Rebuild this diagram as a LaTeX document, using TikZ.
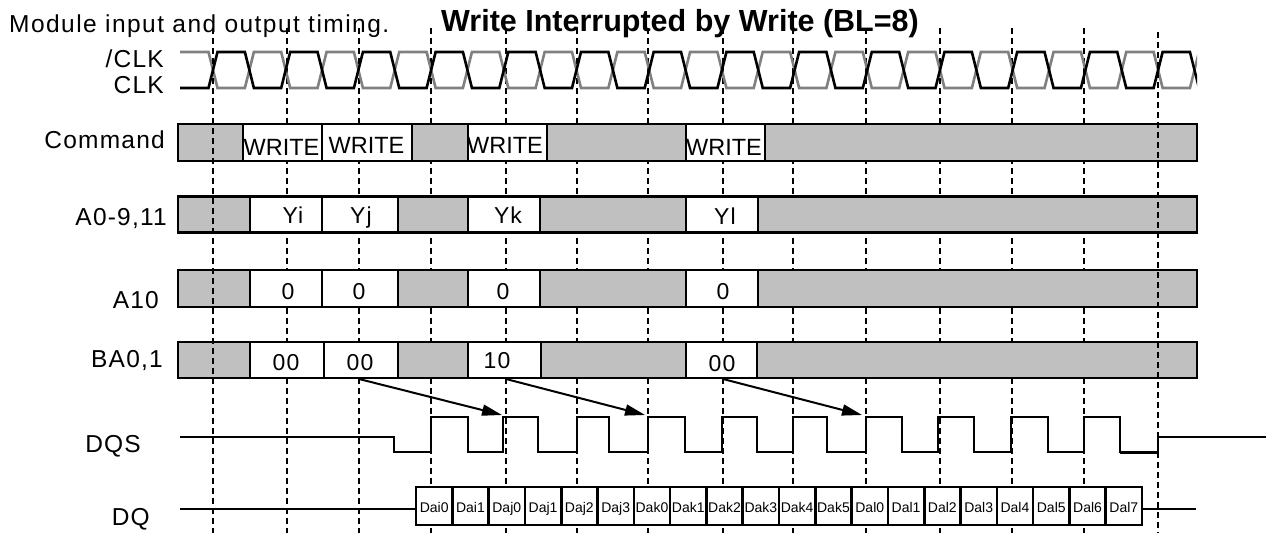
\documentclass[tikz,border=0pt]{standalone}
\usepackage{fontspec}
\setmainfont{Liberation Sans}
\newfontfamily\labfont[LetterSpace=5]{Liberation Sans}
\newfontfamily\modfont[LetterSpace=6]{Liberation Sans}
\usetikzlibrary{arrows.meta}
\definecolor{boxgray}{RGB}{192,192,192}
\definecolor{clkgray}{RGB}{128,128,128}
\begin{document}
\begin{tikzpicture}[x=1pt,y=-1pt,
  lab/.style={anchor=base east, inner sep=0pt, font=\labfont\fontsize{24.5}{29}\selectfont},
  celltxt/.style={anchor=base, inner sep=0pt, font=\labfont\fontsize{23}{27}\selectfont},
  wtxt/.style={anchor=base, inner sep=0pt, font=\fontsize{23.5}{27}\selectfont},
  dqtxt/.style={anchor=base, inner sep=0pt, font=\fontsize{14}{16}\selectfont},
  gridline/.style={dash pattern=on 6pt off 4pt, line width=1.8pt},
  seg/.style={draw=black, line width=2.8pt},
  cell/.style={draw=black, fill=white, line width=2.6pt},
  wave/.style={line width=2.6pt, line join=miter},
  sig/.style={line width=2pt},
  arr/.style={line width=2pt, -{Triangle[length=20pt,width=11pt]}}
]
\useasboundingbox (0,0) rectangle (1266,533);

% background grid lines
\foreach \x in {287,359,431,506,577,648,723,793,866,940,1012,1084}
  \draw[gridline] (\x,28) -- (\x,533);

% title texts
\node[anchor=base, inner sep=0pt, font=\bfseries\fontsize{30.5}{34}\selectfont] (title) at (680,31) {Write Interrupted by Write (BL=8)};
\node[anchor=base west, inner sep=0pt, font=\modfont\fontsize{24.5}{29}\selectfont] (module) at (9,32) {Module input and output timing.};

% clocks
\begin{scope}
  \clip (170,30) rectangle (1197,110);
  \draw[wave, draw=clkgray] (180,52) foreach \k in {0,...,27} {
     -- ({213+\k*36.35-4.5},{88-36*(1-mod(\k,2))})
     -- ({213+\k*36.35+4.5},{52+36*(1-mod(\k,2))}) } -- (1230,88);
  \draw[wave] (180,88) foreach \k in {0,...,27} {
     -- ({213+\k*36.35-4.5},{52+36*(1-mod(\k,2))})
     -- ({213+\k*36.35+4.5},{88-36*(1-mod(\k,2))}) } -- (1230,52);
\end{scope}

% labels
\node[lab] (lnclk) at (164,67) {/CLK};
\node[lab] (lclk) at (164,93) {CLK};
\node[lab] (lcmd) at (165,148) {Command};
\node[lab] (laddr) at (167,225) {A0-9,11};
\node[lab] (la10) at (159,308) {A10};
\node[lab] (lba) at (163,367) {BA0,1};
\node[lab] (ldqs) at (141,452) {DQS};
\node[lab] (ldq) at (150,525) {DQ};

% Command row
\foreach \a/\b/\f in {178/243/boxgray,243/322/white,322/412/white,412/468/boxgray,468/547/white,547/686/boxgray,686/765/white,765/1197/boxgray}
  \draw[seg, fill=\f] (\a,124) rectangle (\b,161);
% A0-9,11 row
\foreach \a/\b/\f in {178/250/boxgray,250/322/white,322/398/white,398/468/boxgray,468/540/white,540/686/boxgray,686/758/white,758/1197/boxgray}
  \draw[seg, fill=\f] (\a,196.5) rectangle (\b,232.5);
% A10 row
\foreach \a/\b/\f in {178/250/boxgray,250/322/white,322/398/white,398/468/boxgray,468/540/white,540/686/boxgray,686/758/white,758/1197/boxgray}
  \draw[seg, fill=\f] (\a,270) rectangle (\b,307);
% BA0,1 row
\foreach \a/\b/\f in {178/250/boxgray,250/324/white,324/398/white,398/468/boxgray,468/541/white,541/686/boxgray,686/757/white,757/1197/boxgray}
  \draw[seg, fill=\f] (\a,342) rectangle (\b,378);

% cell texts
\node[wtxt] (w1) at (281.5,155) {WRITE};
\node[wtxt] (w2) at (366.5,153) {WRITE};
\node[wtxt] (w3) at (505,153) {WRITE};
\node[wtxt] (w4) at (724,155) {WRITE};
\node[celltxt] (y1) at (293,223) {Yi};
\node[celltxt] (y2) at (361,223) {Yj};
\node[celltxt] (y3) at (508,223) {Yk};
\node[celltxt] (y4) at (725,224) {Yl};
\node[celltxt] (z1) at (288,299) {0};
\node[celltxt] (z2) at (359,299) {0};
\node[celltxt] (z3) at (503,299) {0};
\node[celltxt] (z4) at (723,299) {0};
\node[celltxt] (b1) at (286,370) {00};
\node[celltxt] (b2) at (360,370) {00};
\node[celltxt] (b3) at (497,368) {10};
\node[celltxt] (b4) at (722,371) {00};

% foreground grid lines
\draw[gridline] (213,28) -- (213,533);
\draw[gridline] (1158,32) -- (1158,533);

% DQS
\draw[sig] (180,437) -- (394,437) -- (394,452) -- (431,452)
  -- (431,417) -- (468,417) -- (468,452) -- (503,452)
  -- (503,417) -- (538,417) -- (538,452) -- (577,452)
  -- (577,417) -- (609,417) -- (609,452) -- (648,452)
  -- (648,417) -- (685,417) -- (685,452) -- (722,452)
  -- (722,417) -- (757,417) -- (757,452) -- (793,452)
  -- (793,417) -- (827,417) -- (827,452) -- (866,452)
  -- (866,417) -- (902,417) -- (902,452) -- (938,452)
  -- (938,417) -- (974,417) -- (974,452) -- (1011,452)
  -- (1011,417) -- (1048,417) -- (1048,452) -- (1084,452)
  -- (1084,417) -- (1120,417) -- (1120,452) -- (1158,452)
  -- (1158,437) -- (1266,437);
\draw[line width=3pt] (1120,452.5) -- (1158,452.5);

% DQ
\coordinate (dqa) at (180,509);
\coordinate (dqb) at (416,509);
\coordinate (dqc) at (1142,509);
\coordinate (dqd) at (1196,509);
\draw[sig] (dqa) -- (dqb);
\draw[sig] (dqc) -- (dqd);
\foreach \t [count=\i] in {Dai0,Dai1,Daj0,Daj1,Daj2,Daj3,Dak0,Dak1,Dak2,Dak3,Dak4,Dak5,Dal0,Dal1,Dal2,Dal3,Dal4,Dal5,Dal6,Dal7} {
  \draw[cell] ({416+(\i-1)*36.3},487) rectangle ({416+\i*36.3},525);
  \node[dqtxt] (dq\i) at ({416+(\i-0.5)*36.3},512) {\t};
}

% arrows
\coordinate (a1s) at (359,379);
\coordinate (a1e) at (502,415);
\coordinate (a2s) at (506,379);
\coordinate (a2e) at (645,415);
\coordinate (a3s) at (723,379);
\coordinate (a3e) at (862,415);
\draw[arr] (a1s) -- (a1e);
\draw[arr] (a2s) -- (a2e);
\draw[arr] (a3s) -- (a3e);
\end{tikzpicture}
\end{document}
